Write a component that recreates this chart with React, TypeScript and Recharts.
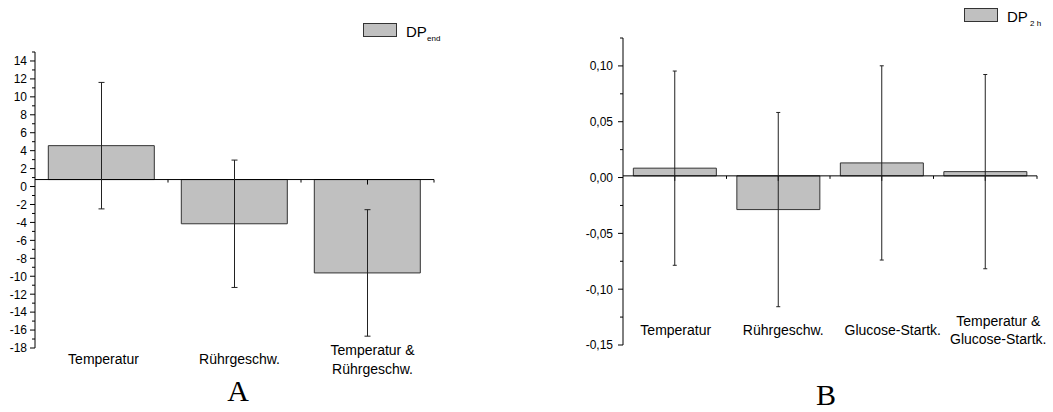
import React from "react";
import {
  ComposedChart,
  Bar,
  Line,
  ErrorBar,
  XAxis,
  YAxis,
  ReferenceLine,
} from "recharts";

// Panel A: DP_end
const categoriesA = ["Temperatur", "Rührgeschw.", "Temperatur &\nRührgeschw."];
const dpEnd = [4.56, -4.15, -9.63];
const dpEndErr = [7.05, 7.1, 7.05];
const baselineA = 0.78;
const yTicksA = [
  -18, -17, -16, -15, -14, -13, -12, -11, -10, -9, -8, -7, -6, -5, -4, -3, -2, -1,
  0, 1, 2, 3, 4, 5, 6, 7, 8, 9, 10, 11, 12, 13, 14, 15,
];

// Panel B: DP_2h
const categoriesB = ["Temperatur", "Rührgeschw.", "Glucose-Startk.", "Temperatur &\nGlucose-Startk."];
const dp2h = [0.0084, -0.0287, 0.0131, 0.0053];
const dp2hErr = [0.087, 0.087, 0.087, 0.087];
const baselineB = 0.0015;
const yTicksB = [-0.15, -0.125, -0.1, -0.075, -0.05, -0.025, 0, 0.025, 0.05, 0.075, 0.1, 0.125];

const FONT = "'Liberation Sans', Arial, sans-serif";
const BAR_FILL = "#c0c0c0";
const BAR_STROKE = "#333333";

function buildRows(names: string[], values: number[], errs: number[], base: number) {
  return names.map((name, i) => ({
    name,
    value: values[i],
    err: errs[i],
    range: [Math.min(base, values[i]), Math.max(base, values[i])],
  }));
}

const rowsA = buildRows(categoriesA, dpEnd, dpEndErr, baselineA);
const rowsB = buildRows(categoriesB, dp2h, dp2hErr, baselineB);

function YTick(props: any) {
  const { x, y, payload, isMajor, format, gap } = props;
  const major = isMajor(payload.value);
  return (
    <g>
      <line x1={x - (major ? 5 : 3)} x2={x} y1={y} y2={y} stroke="#000" strokeWidth={1} />
      {major && (
        <text x={x - gap} y={y} dy="0.36em" textAnchor="end" fontSize={12} fontFamily={FONT} fill="#000">
          {format(payload.value)}
        </text>
      )}
    </g>
  );
}

function CategoryTick(props: any) {
  const { x, y, payload, index, dyBase, lineHeight, nudge } = props;
  const lines = String(payload.value).split("\n");
  const start = y + dyBase - ((lines.length - 1) * lineHeight) / 2;
  return (
    <text textAnchor="middle" fontSize={14} fontFamily={FONT} fill="#000">
      {lines.map((l: string, i: number) => (
        <tspan key={i} x={x + (nudge[index] ?? 0)} y={start + i * lineHeight}>
          {l}
        </tspan>
      ))}
    </text>
  );
}

// x axis drawn at the baseline value, with ticks at category centres and boundaries
function makeAxisShape(n: number) {
  return (p: any) => {
    const { x1, x2, y1 } = p;
    const step = (x2 - x1) / n;
    const marks: React.ReactNode[] = [];
    for (let i = 0; i < n; i++) {
      const cx = x1 + (i + 0.5) * step;
      marks.push(<line key={"M" + i} x1={cx} x2={cx} y1={y1} y2={y1 + 5} stroke="#000" />);
      const bx = x1 + (i + 1) * step;
      marks.push(<line key={"m" + i} x1={bx} x2={bx} y1={y1} y2={y1 + 3} stroke="#000" />);
    }
    return (
      <g>
        <line x1={x1} x2={x2} y1={y1} y2={y1} stroke="#000" strokeWidth={1} />
        {marks}
      </g>
    );
  };
}

function LegendBox({ sub, subGap }: { sub: string; subGap: number }) {
  return (
    <svg width={90} height={24} style={{ overflow: "visible" }}>
      <rect x={0.5} y={0.5} width={33} height={13} fill={BAR_FILL} stroke={BAR_STROKE} />
      <text x={43} y={13.5} fontSize={15} fontFamily={FONT} fill="#000">
        DP
      </text>
      <text x={64 + subGap} y={18} fontSize={8} fontFamily={FONT} fill="#000">
        {sub}
      </text>
    </svg>
  );
}

export default function App() {
  return (
    <div style={{ position: "absolute", left: 0, top: 0, width: 1053, height: 412, background: "#fff" }}>
      <div style={{ position: "absolute", left: 0, top: 0 }}>
        <ComposedChart
          width={530}
          height={412}
          data={rowsA}
          margin={{ top: 52, right: 96, left: 0, bottom: 44 }}
          barCategoryGap="10%"
        >
          <XAxis
            dataKey="name"
            height={20}
            axisLine={false}
            tickLine={false}
            tickSize={0}
            tickMargin={0}
            interval={0}
            tick={<CategoryTick dyBase={16} lineHeight={19} nudge={[2, 5, 5]} />}
          />
          <YAxis
            type="number"
            domain={[-18, 15]}
            ticks={yTicksA}
            interval={0}
            width={35}
            tickSize={0}
            tickMargin={0}
            tickLine={false}
            axisLine={{ stroke: "#000" }}
            tick={
              <YTick
                gap={8}
                isMajor={(v: number) => v % 2 === 0}
                format={(v: number) => String(v)}
              />
            }
          />
          <Bar dataKey="range" fill={BAR_FILL} stroke={BAR_STROKE} strokeWidth={1} isAnimationActive={false} />
          <ReferenceLine y={baselineA} shape={makeAxisShape(categoriesA.length)} />
          <Line dataKey="value" stroke="none" dot={false} activeDot={false} isAnimationActive={false}>
            <ErrorBar dataKey="err" direction="y" width={3} stroke="#222" strokeWidth={1} />
          </Line>
        </ComposedChart>
      </div>

      <div style={{ position: "absolute", left: 530, top: 0 }}>
        <ComposedChart
          width={523}
          height={412}
          data={rowsB}
          margin={{ top: 38, right: 16, left: 33, bottom: 47 }}
          barCategoryGap="10%"
        >
          <XAxis
            dataKey="name"
            height={20}
            axisLine={false}
            tickLine={false}
            tickSize={0}
            tickMargin={0}
            interval={0}
            tick={<CategoryTick dyBase={-10} lineHeight={18} nudge={[1, 5, 11, 13]} />}
          />
          <YAxis
            type="number"
            domain={[-0.15, 0.125]}
            ticks={yTicksB}
            interval={0}
            width={60}
            tickSize={0}
            tickMargin={0}
            tickLine={false}
            axisLine={{ stroke: "#000" }}
            tick={
              <YTick
                gap={10}
                isMajor={(v: number) => Math.round(v * 1000) % 50 === 0}
                format={(v: number) => v.toFixed(2).replace(".", ",")}
              />
            }
          />
          <Bar dataKey="range" fill={BAR_FILL} stroke={BAR_STROKE} strokeWidth={1} isAnimationActive={false} />
          <ReferenceLine y={baselineB} shape={makeAxisShape(categoriesB.length)} />
          <Line dataKey="value" stroke="none" dot={false} activeDot={false} isAnimationActive={false}>
            <ErrorBar dataKey="err" direction="y" width={2} stroke="#222" strokeWidth={1} />
          </Line>
        </ComposedChart>
      </div>

      <div style={{ position: "absolute", left: 363, top: 23 }}>
        <LegendBox sub="end" subGap={0} />
      </div>
      <div style={{ position: "absolute", left: 964, top: 8 }}>
        <LegendBox sub="2 h" subGap={2} />
      </div>

      <div
        style={{
          position: "absolute",
          left: 222,
          top: 374,
          width: 32,
          textAlign: "center",
          fontFamily: "'Liberation Serif', 'Times New Roman', serif",
          fontSize: 30,
          lineHeight: "34px",
        }}
      >
        A
      </div>
      <div
        style={{
          position: "absolute",
          left: 810,
          top: 378,
          width: 32,
          textAlign: "center",
          fontFamily: "'Liberation Serif', 'Times New Roman', serif",
          fontSize: 30,
          lineHeight: "34px",
        }}
      >
        B
      </div>
    </div>
  );
}
